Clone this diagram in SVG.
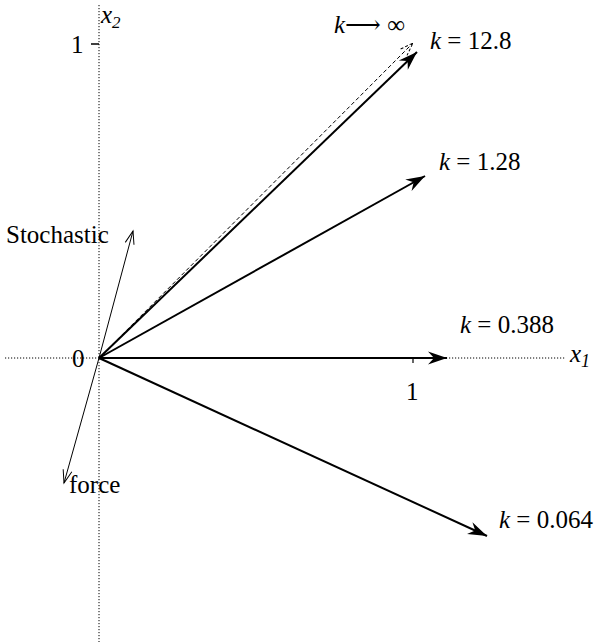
<svg xmlns="http://www.w3.org/2000/svg" width="597" height="642" viewBox="0 0 597 642">
<defs>
<marker id="head" markerUnits="userSpaceOnUse" markerWidth="24" markerHeight="16" viewBox="-20 -8 24 16" refX="0" refY="0" orient="auto">
<path d="M0,0 L-19,-6.5 L-13,0 L-19,6.5 z" fill="#000"/>
</marker>
<marker id="open" markerUnits="userSpaceOnUse" markerWidth="20" markerHeight="14" viewBox="-16 -7 20 14" refX="0" refY="0" orient="auto">
<path d="M-13,-4.5 L0,0 L-13,4.5" fill="none" stroke="#000" stroke-width="1"/>
</marker>
<marker id="dashhead" markerUnits="userSpaceOnUse" markerWidth="20" markerHeight="14" viewBox="-16 -7 20 14" refX="0" refY="0" orient="auto">
<path d="M-13,-4.5 L0,0 L-13,4.5" fill="none" stroke="#000" stroke-width="1" stroke-dasharray="3,2"/>
</marker>
</defs>
<style>
.axis{stroke:#000;stroke-width:1;stroke-dasharray:1.2,1.8;fill:none}
.vec{stroke:#000;stroke-width:2;fill:none;marker-end:url(#head)}
.thin{stroke:#000;stroke-width:1;fill:none}
text{font-size:25px;fill:#000}
.it{font-style:italic}
</style>
<g font-family="Liberation Serif, Times New Roman, DejaVu Serif, serif">
<g id="axes">
<line class="axis" x1="5" y1="358" x2="566" y2="358"/>
<line class="axis" x1="99" y1="5" x2="99" y2="642"/>
<line x1="91" y1="44" x2="99" y2="44" stroke="#000" stroke-width="1.5"/>
<line x1="413" y1="358" x2="413" y2="363" stroke="#000" stroke-width="1.2"/>
<text x="101" y="23" class="it" font-size="23">x<tspan font-size="17" dy="5">2</tspan></text>
<text x="570" y="362" class="it">x<tspan font-size="18" dy="5">1</tspan></text>
<text x="71" y="53">1</text>
<text x="406" y="400">1</text>
<text x="72" y="367">0</text>
</g>
<g id="connectors">
<line x1="99" y1="358" x2="413" y2="43" stroke="#000" stroke-width="1" stroke-dasharray="4,2.5" marker-end="url(#dashhead)"/>
<line class="vec" x1="99" y1="358" x2="417" y2="52"/>
<line class="vec" x1="99" y1="358" x2="425" y2="176"/>
<line class="vec" x1="99" y1="358" x2="447" y2="358"/>
<line class="vec" x1="99" y1="358" x2="487" y2="536"/>
<line class="thin" x1="99" y1="358" x2="133" y2="231" marker-end="url(#open)"/>
<line class="thin" x1="99" y1="358" x2="64" y2="483" marker-end="url(#open)"/>
</g>
<g id="label-kinf"><text x="334" y="33"><tspan class="it">k</tspan>⟶ ∞</text></g>
<g id="label-k128"><text x="430" y="49"><tspan class="it">k</tspan> = 12.8</text></g>
<g id="label-k1-28"><text x="439" y="170"><tspan class="it">k</tspan> = 1.28</text></g>
<g id="label-k0388"><text x="460" y="333"><tspan class="it">k</tspan> = 0.388</text></g>
<g id="label-k0064"><text x="499" y="528"><tspan class="it">k</tspan> = 0.064</text></g>
<g id="label-stochastic"><text x="6" y="243">Stochastic</text></g>
<g id="label-force"><text x="69" y="493">force</text></g>
</g>
</svg>
